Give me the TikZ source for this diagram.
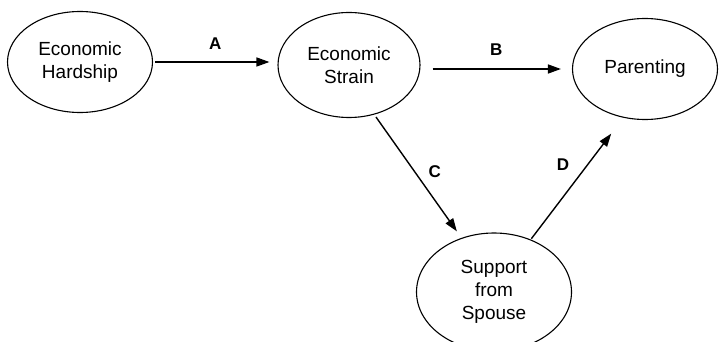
\documentclass[tikz,border=0pt]{standalone}
\usepackage{fontspec}
\setmainfont{Liberation Sans}
\usetikzlibrary{shapes.geometric,arrows.meta}

\tikzset{
  factor/.style={ellipse, draw, line width=1.1pt, inner sep=0pt, align=center,
    font=\fontsize{19}{23}\selectfont},
  path/.style={line width=1.4pt, -{Triangle[length=13pt,width=9pt]}},
  lbl/.style={font=\fontsize{17}{20}\selectfont\bfseries}
}

\begin{document}
\begin{tikzpicture}[x=1pt, y=-1pt]
% Fix the picture size
\useasboundingbox (0,0) rectangle (719,342);

% The four factors
\node[factor, minimum width=145pt, minimum height=101pt] (hard) at (80,62) {Economic\\Hardship};
\node[factor, minimum width=142pt, minimum height=105pt] (strain) at (349,65) {Economic\\Strain};
\node[factor, minimum width=145pt, minimum height=101pt] (par) at (645,69) {Parenting};
\node[factor, minimum width=155pt, minimum height=118pt] (sup) at (494,292) {Support\\from\\Spouse};

% Paths between them
\draw[path, shorten <=2pt, shorten >=8pt] (hard.east) -- (hard.east -| strain.west)
  node[lbl, midway, yshift=18pt] {A};
\draw[path, shorten <=12pt, shorten >=11pt] (par.west -| strain.east) -- (par.west)
  node[lbl, midway, yshift=19pt] {B};
\draw[path, shorten <=3pt, shorten >=8pt] (strain.-63) -- (sup.121)
  node[lbl, midway, xshift=17pt, yshift=5pt] {C};
\draw[path, shorten <=1pt, shorten >=20pt] (sup.55) -- (par.-114)
  node[lbl, midway, xshift=-14pt, yshift=14pt] {D};
\end{tikzpicture}
\end{document}
